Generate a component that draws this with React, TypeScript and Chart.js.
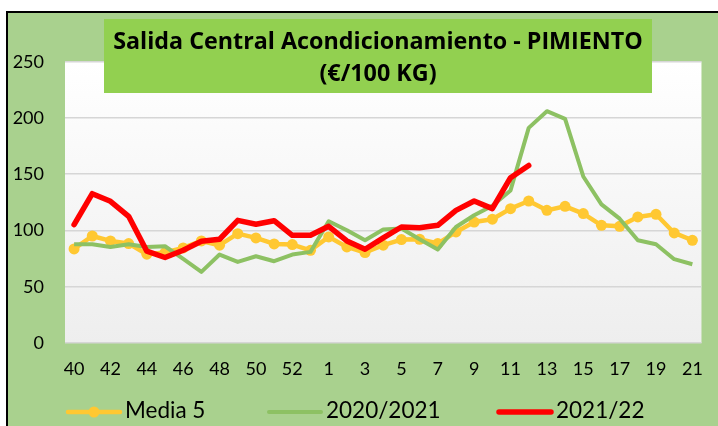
import React, { useEffect, useRef } from 'react';
import { Chart, registerables } from 'chart.js';

Chart.register(...registerables);

const weeks = [
  '40', '41', '42', '43', '44', '45', '46', '47', '48', '49', '50', '51', '52', '53',
  '1', '2', '3', '4', '5', '6', '7', '8', '9', '10', '11', '12', '13', '14', '15', '16',
  '17', '18', '19', '20', '21',
];

const media5 = [
  83.6, 95.1, 90.7, 88.4, 78.9, 80.4, 84.5, 90.7, 86.9, 97.2, 93.4, 88, 87.5, 82.4,
  94.3, 85.4, 80.4, 86.9, 91.9, 92.2, 88.4, 98.7, 107.5, 110, 119.4, 126.2, 117.9,
  121.5, 115, 104.6, 103.7, 112, 114.4, 97.8, 91.3,
];

const season2020_21 = [
  87.8, 87.8, 85.4, 87.8, 85.4, 86, 74.8, 63.2, 78.6, 72.1, 77.1, 72.7, 78.6, 81,
  108.2, 100.2, 91.3, 100.8, 101.7, 92.2, 83, 103.1, 113.5, 122, 135.6, 191.2, 206,
  199.2, 148, 123.2, 110.5, 91.3, 87.8, 74.5, 70,
];

const season2021_22 = [
  105.2, 132.7, 125.9, 112.6, 81.6, 76, 82.4, 90.4, 92.2, 109, 105.5, 108.7, 95.7, 95.7,
  103.7, 90.7, 83.3, 93.4, 103.1, 102.5, 104.6, 117.9, 126.2, 119.4, 146.9, 157.8,
  null, null, null, null, null, null, null, null, null,
];

const seriesNames = ['Media 5', '2020/2021', '2021/22'];
const titleLines = ['Salida Central Acondicionamiento - PIMIENTO', '(€/100 KG)'];
const yMin = 0;
const yMax = 250;
const yStep = 50;

const FONT = 'Lato, "Open Sans", "DejaVu Sans", sans-serif';
const TITLE_FONT = '"Open Sans", Lato, "DejaVu Sans", sans-serif';
const YELLOW = '#FFC832';
const GREEN = '#8DC163';
const RED = '#FF0000';

const decorPlugin = {
  id: 'decor',
  beforeDraw(chart: any) {
    const { ctx, chartArea: ca, width, height } = chart;
    ctx.save();
    ctx.fillStyle = '#ffffff';
    ctx.fillRect(0, 0, width, height);
    ctx.fillStyle = '#A9D18E';
    ctx.fillRect(7, 12, width - 7, height - 12);
    ctx.fillStyle = '#000000';
    ctx.fillRect(6, 11, width - 6, 2);
    ctx.fillRect(6, 11, 2, height - 11);
    const g = ctx.createLinearGradient(0, ca.top, 0, ca.bottom);
    g.addColorStop(0, '#ffffff');
    g.addColorStop(1, '#eeeeee');
    ctx.fillStyle = g;
    ctx.fillRect(ca.left, ca.top, ca.right - ca.left, ca.bottom - ca.top);
    ctx.restore();
  },
  afterDraw(chart: any) {
    const { ctx } = chart;
    ctx.save();
    // title box
    ctx.fillStyle = '#92D050';
    ctx.fillRect(104, 19, 548, 74);
    ctx.fillStyle = '#000000';
    ctx.font = `bold 20px ${TITLE_FONT}`;
    const w20 = ctx.measureText(titleLines[0]).width;
    const size = Math.min(24, Math.max(16, (20 * 530) / w20));
    ctx.font = `bold ${size}px ${TITLE_FONT}`;
    ctx.textAlign = 'center';
    ctx.textBaseline = 'middle';
    ctx.fillText(titleLines[0], 378, 42);
    ctx.fillText(titleLines[1], 378, 74);

    // legend
    const items = [
      { x: 66, color: YELLOW, width: 4.5, point: true },
      { x: 267, color: GREEN, width: 4, point: false },
      { x: 497, color: RED, width: 5.5, point: false },
    ];
    const ly = 412;
    ctx.font = `22.5px ${FONT}`;
    ctx.textAlign = 'left';
    ctx.textBaseline = 'middle';
    items.forEach((it, i) => {
      ctx.strokeStyle = it.color;
      ctx.lineWidth = it.width;
      ctx.lineCap = 'round';
      ctx.beginPath();
      ctx.moveTo(it.x + 2, ly);
      ctx.lineTo(it.x + 54, ly);
      ctx.stroke();
      if (it.point) {
        ctx.fillStyle = it.color;
        ctx.beginPath();
        ctx.arc(it.x + 28, ly, 5.5, 0, Math.PI * 2);
        ctx.fill();
      }
      ctx.fillStyle = '#000000';
      ctx.fillText(chart.data.datasets[i].label, it.x + 59, ly - 1);
    });
    ctx.restore();
  },
};

export default function App() {
  const ref = useRef<HTMLCanvasElement | null>(null);

  useEffect(() => {
    document.body.style.margin = '0';
    const canvas = ref.current;
    if (!canvas) return;
    const chart = new Chart(canvas, {
      type: 'line',
      data: {
        labels: weeks,
        datasets: [
          {
            label: seriesNames[0],
            data: media5,
            borderColor: YELLOW,
            backgroundColor: YELLOW,
            borderWidth: 4.5,
            pointRadius: 5.5,
            pointBorderWidth: 0,
            pointBackgroundColor: YELLOW,
            borderJoinStyle: 'round',
            order: 3,
          },
          {
            label: seriesNames[1],
            data: season2020_21,
            borderColor: GREEN,
            backgroundColor: GREEN,
            borderWidth: 4,
            pointRadius: 0,
            borderJoinStyle: 'round',
            order: 2,
          },
          {
            label: seriesNames[2],
            data: season2021_22,
            borderColor: RED,
            backgroundColor: RED,
            borderWidth: 5.5,
            pointRadius: 0,
            borderJoinStyle: 'round',
            borderCapStyle: 'round',
            spanGaps: false,
            order: 1,
          },
        ],
      },
      options: {
        responsive: false,
        animation: false,
        devicePixelRatio: 1,
        layout: { padding: { left: 0, right: 12.5, top: 61.7, bottom: 0 } },
        plugins: {
          legend: { display: false },
          title: { display: false },
          tooltip: { enabled: false },
        },
        scales: {
          x: {
            type: 'category',
            offset: true,
            grid: { display: false, drawTicks: false },
            border: { display: false },
            afterFit: (s: any) => { s.height = 83; },
            ticks: {
              autoSkip: false,
              maxRotation: 0,
              padding: 15,
              color: '#000000',
              font: { family: FONT, size: 18 },
              callback: (_v: any, i: number) => (i % 2 === 0 ? weeks[i] : ''),
            },
          },
          y: {
            min: yMin,
            max: yMax,
            grid: { color: '#D6D6D6', lineWidth: 1.5, drawTicks: false },
            border: { display: false },
            afterFit: (s: any) => { s.width = 65; },
            ticks: {
              stepSize: yStep,
              padding: 21,
              color: '#000000',
              font: { family: FONT, size: 18 },
            },
          },
        },
      },
      plugins: [decorPlugin],
    });
    return () => chart.destroy();
  }, []);

  return (
    <div style={{ position: 'absolute', left: 0, top: 0, width: 718, height: 426 }}>
      <canvas ref={ref} width={718} height={426} />
    </div>
  );
}
